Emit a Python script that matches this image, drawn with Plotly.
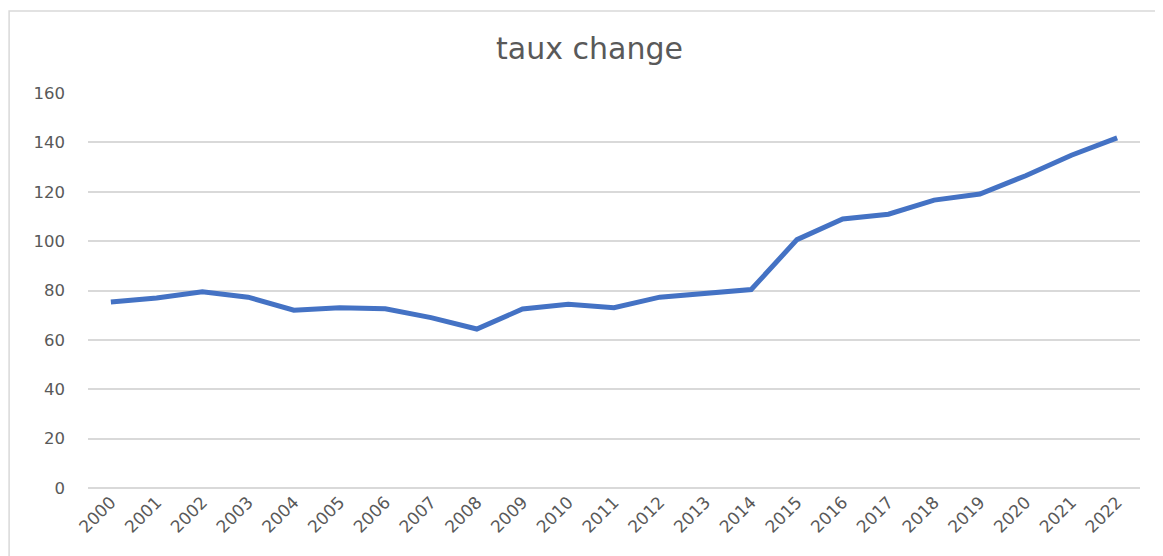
import plotly.graph_objects as go

# ─── Data ────────────────────────────────────────────────────────────────────

YEARS = [str(y) for y in range(2000, 2023)]
TAUX = [75.3, 77.0, 79.5, 77.3, 72.0, 73.0, 72.6, 69.0, 64.4, 72.5, 74.4, 73.0,
        77.3, 79.0, 80.4, 100.6, 109.0, 110.9, 116.6, 119.1, 126.5, 134.8, 141.8]
Y_TICKS = [0, 20, 40, 60, 80, 100, 120, 140, 160]

# ─── Style ───────────────────────────────────────────────────────────────────

LINE_COLOR = "#4472C4"
GRID_COLOR = "#D9D9D9"
TEXT_COLOR = "#595959"
FONT_FAMILY = "DejaVu Sans, sans-serif"

fig = go.Figure(go.Scatter(
    x=YEARS,
    y=TAUX,
    mode="lines",
    line=dict(color=LINE_COLOR, width=5),
    showlegend=False,
))

# page body adds ~8px offset, margins are shifted to compensate
fig.update_layout(
    width=1163,
    height=556,
    paper_bgcolor="white",
    plot_bgcolor="white",
    font=dict(family=FONT_FAMILY, color=TEXT_COLOR, size=16),
    title=dict(text="taux change", x=0.5, xref="container", y=0.928, xanchor="center",
               yanchor="middle", font=dict(size=30, color=TEXT_COLOR)),
    margin=dict(l=80, r=31, t=85, b=76),
    xaxis=dict(
        type="category",
        range=[-0.5, 22.5],
        tickangle=-45,
        showgrid=False,
        showline=False,
        ticks="",
        tickfont=dict(size=17, color=TEXT_COLOR),
    ),
    yaxis=dict(
        range=[0, 160],
        tickvals=Y_TICKS,
        showgrid=True,
        gridcolor=GRID_COLOR,
        gridwidth=1.5,
        zeroline=True,
        zerolinecolor=GRID_COLOR,
        zerolinewidth=1.5,
        ticks="",
        ticklabelstandoff=22,
        tickfont=dict(size=16.5, color=TEXT_COLOR),
    ),
    shapes=[dict(
        type="rect", xref="paper", yref="paper",
        x0=-0.075, x1=1.05, y0=-0.3, y1=1.2076,
        line=dict(color=GRID_COLOR, width=1.5),
        fillcolor="rgba(0,0,0,0)",
        layer="below",
    )],
)

fig.write_html("out.html")
